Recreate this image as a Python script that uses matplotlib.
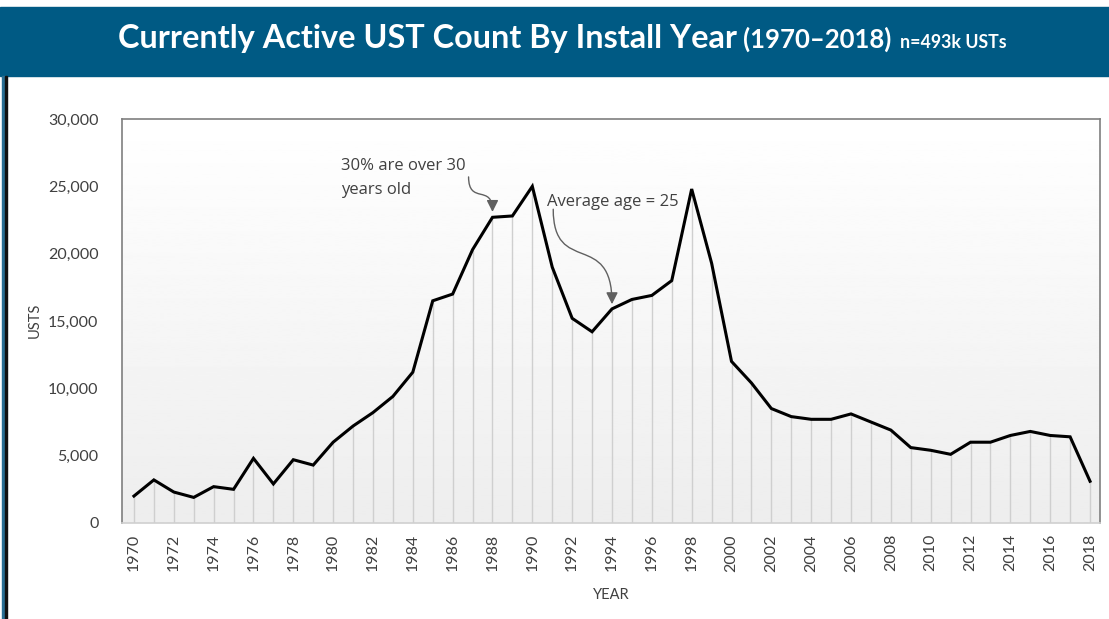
import numpy as np
import matplotlib.pyplot as plt
from matplotlib.patches import Rectangle, FancyArrowPatch
from matplotlib.path import Path
from matplotlib.ticker import FuncFormatter

# install year vs. count of active USTs
years = list(range(1970, 2019))
counts = [2000, 3200, 2300, 1900, 2700, 2500, 4800, 2900, 4700, 4300,
          6000, 7200, 8200, 9400, 11200, 16500, 17000, 20300, 22700, 22800,
          25000, 19000, 15200, 14200, 15900, 16600, 16900, 18000, 24800, 19300,
          12000, 10400, 8500, 7900, 7700, 7700, 8100, 7500, 6900, 5600,
          5400, 5100, 6000, 6000, 6500, 6800, 6500, 6400, 3100]
yticks = [0, 5000, 10000, 15000, 20000, 25000, 30000]
xticks = years[::2]

W, H = 1109, 619
fig = plt.figure(figsize=(W / 100, H / 100), dpi=100)
fig.patch.set_facecolor('white')

# header band
blue = '#005a84'
fig.patches.append(Rectangle((0, (H - 76) / H), 1, 69 / H, transform=fig.transFigure,
                             color=blue, zorder=0))
fig.patches.append(Rectangle((1.5 / W, 0), 3.5 / W, (H - 76) / H, transform=fig.transFigure,
                             color='#2a6f94', zorder=0))
fig.patches.append(Rectangle((5 / W, 0), 1.6 / W, (H - 76) / H, transform=fig.transFigure,
                             color='#111111', zorder=0))

ax = fig.add_axes([122 / W, (H - 523) / H, 978 / W, 404 / H])
x0, x1 = years[0] - 0.6, years[-1] + 0.5
ax.set_xlim(x0, x1)
ax.set_ylim(0, 30000)

# gradient background
grad = np.linspace(1.0, 0.93, 256).reshape(-1, 1)
ax.imshow(grad, extent=[x0, x1, 0, 30000], aspect='auto', cmap='gray',
          vmin=0, vmax=1, zorder=0)

ax.vlines(years, 0, counts, color='#cfcfcf', lw=1, zorder=1)
ax.plot(years, counts, color='black', lw=2.2, zorder=3, solid_joinstyle='miter')

for s in ['left', 'top', 'right']:
    ax.spines[s].set_color('#7f7f7f')
    ax.spines[s].set_linewidth(1.2)
ax.spines['bottom'].set_color('#d0d0d0')
ax.spines['bottom'].set_linewidth(1.2)

tick_font = 'Lato'
ax.set_yticks(yticks)
ax.yaxis.set_major_formatter(FuncFormatter(lambda v, p: f'{int(v):,}'))
ax.set_xticks(xticks)
ax.set_xticklabels([str(y) for y in xticks], rotation=90)
ax.tick_params(axis='both', length=0, labelsize=11.5, labelcolor='#404040')
ax.tick_params(axis='y', pad=17)
ax.tick_params(axis='x', pad=8)
for lbl in ax.get_xticklabels() + ax.get_yticklabels():
    lbl.set_family(tick_font)

fig.text(35 / W, 1 - 320 / H, 'USTS', rotation=90, ha='center', va='center',
         fontsize=10.5, color='#404040', family=tick_font)
fig.text(611 / W, 1 - 595 / H, 'YEAR', ha='center', va='center',
         fontsize=10.5, color='#404040', family=tick_font)

# annotations
ax.text(1980.4, 25600, '30% are over 30\nyears old', fontsize=12, color='#404040',
        family='Open Sans', va='center', ha='left', linespacing=1.65)
ax.text(1990.75, 23850, 'Average age = 25', fontsize=12, color='#404040',
        family='Open Sans', va='center', ha='left')

arrow_kw = dict(arrowstyle='-|>,head_length=7,head_width=3.5', color='#606060', lw=1,
                mutation_scale=1, zorder=4)
p1 = Path([(1986.8, 25700), (1986.8, 23600), (1988.0, 25200), (1988.0, 23100)],
          [Path.MOVETO, Path.CURVE4, Path.CURVE4, Path.CURVE4])
ax.add_patch(FancyArrowPatch(path=p1, transform=ax.transData, **arrow_kw))
p2 = Path([(1991.05, 23300), (1991.05, 18300), (1994.0, 21800), (1994.0, 16250)],
          [Path.MOVETO, Path.CURVE4, Path.CURVE4, Path.CURVE4])
ax.add_patch(FancyArrowPatch(path=p2, transform=ax.transData, **arrow_kw))

# title pieces chained left to right
fig.canvas.draw()
r = fig.canvas.get_renderer()
ty = 1 - 48 / H
parts = [('Currently Active UST Count By Install Year', 23.3, 0),
         ('(1970\u20132018)', 18.5, 6),
         ('n=493k USTs', 12.8, 9)]
xpos = 118
for txt, size, gap in parts:
    xpos += gap
    t = fig.text(xpos / W, ty, txt, ha='left', va='baseline', fontsize=size,
                 color='white', family='Lato', weight='bold')
    xpos = t.get_window_extent(r).x1

fig.savefig('out.png', dpi=100)
